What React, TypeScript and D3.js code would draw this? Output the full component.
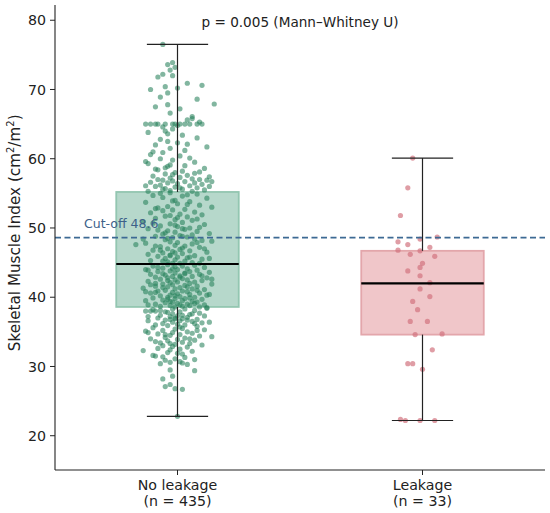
import React from 'react';
import * as d3 from 'd3';

// groups on the x axis
const groups = ['No leakage', 'Leakage'];
const groupCounts = [435, 33];

// box statistics: [low whisker, q1, median, q3, high whisker]
const boxStats = [
  [22.8, 38.6, 44.8, 55.2, 76.5],
  [22.2, 34.6, 42.0, 46.7, 60.1],
];

const yTicks = [20, 30, 40, 50, 60, 70, 80];
const cutoff = 48.6;
const pText = 'p = 0.005 (Mann\u2013Whitney U)';

// individual patients: [SMI, jitter in hundredths of a category]
const noLeakTop = [
  [76.5,-6],[73.9,-2],[73.6,-4],[73.2,-1],[72.8,-3],[72.2,-6],[72.0,-2],[71.8,-8],[70.9,4],[70.6,10],
  [70.4,-5],[70.2,0],[70.0,-11],[69.5,-4],[68.9,-7],[68.6,8],[67.9,15],[67.8,-4],[67.5,-9],[67.2,1],
  [66.6,-3],[66.1,6],[65.0,-13],[65.0,-11],[65.0,-8],[65.0,-5],[65.0,-2],[65.0,1],[65.0,3],[65.0,5],
  [65.0,8],[65.0,10],[65.0,-9],[65.0,-1],[65.8,6],[65.6,4],[65.3,9],[64.6,-6],[64.3,-2],[64.0,-5],
  [63.8,-12],[63.4,2],[63.0,8],[62.8,-7],[62.5,-4],[62.3,0],[62.0,-9],[61.7,12],[61.5,-3],[61.2,3],
  [60.9,-6],[60.6,-11],[60.4,1],[60.1,5],[59.8,-2],[59.6,-13],[59.3,-12],[59.0,3],[58.9,-4],[58.6,11],
  [58.4,-8],[58.2,2],[58.0,-1],[57.9,7],[57.8,-5],[57.6,4],[57.5,-10],[57.3,1],[57.2,-3],[57.1,6],
  [57.0,-8],[57.0,9],[56.9,-6],[56.9,12],[56.8,-2],[56.7,3],[56.6,-11],[56.5,7],[56.5,-4],[56.4,0],
  [56.3,10],[56.2,-7],[56.1,5],[56.0,-9],[56.0,13],[55.9,-1],[55.8,8],[55.7,-5],[55.6,2],[55.5,11],
  [55.4,-3],[55.3,6],[55.3,-12],[58.7,-5],[58.1,9],[57.7,-2],[57.4,13],[59.5,7],[60.0,-7],[61.0,-10],
  [62.1,4],[63.6,-4],[64.8,0],[59.1,-3],[58.5,-9],[56.1,-13],[55.8,1],[55.6,-6],[56.7,14],
];
const noLeakUpperMid = [
  [55.1,-3],[54.9,8],[54.7,-10],[54.6,2],[54.4,-6],[54.3,12],[54.0,-1],[53.8,5],[53.7,-13],[53.5,0],
  [53.3,9],[53.1,-4],[53.0,14],[52.9,-8],[52.7,3],[52.6,-2],[52.3,7],[52.2,-11],[52.0,1],[51.9,10],
  [51.7,-5],[51.6,4],[51.4,-9],[51.2,-1],[51.1,6],[50.9,-14],[50.8,2],[50.6,-3],[50.5,11],[50.3,-7],
  [50.2,0],[50.0,5],[49.9,-12],[49.8,3],[49.6,-4],[49.5,8],[49.4,-1],[49.2,13],[49.1,-6],[48.9,1],
  [48.8,-9],[48.7,4],[48.6,-2],[48.4,7],[48.3,-5],[48.2,10],[48.0,-3],[47.9,0],[47.8,-13],[47.7,6],
  [47.5,-1],[47.4,3],[47.3,-7],[47.2,9],[47.0,-4],[46.9,1],[46.8,-10],[46.7,5],[46.6,-2],[46.5,12],
  [46.4,-6],[46.3,2],[46.1,-3],[46.0,7],[45.9,-8],[45.8,0],[45.7,4],[45.6,-5],[45.5,10],[45.4,-1],
  [45.3,-11],[45.2,3],[45.1,-4],[45.0,6],[44.9,-2],[44.9,9],[47.6,-17],[48.1,14],[49.7,-8],[50.7,-10],
  [51.3,8],[52.5,-6],[53.4,4],[46.2,-12],[45.6,13],[47.1,2],[48.5,-4],[49.0,6],[50.4,-1],[51.8,-3],
  [47.9,8],[46.8,-7],[45.8,5],[48.8,2],[49.3,-5],[50.1,9],[46.4,-1],[47.4,-9],[45.2,-6],[44.9,1],
  [48.4,-14],[47.0,11],[46.0,-3],[49.9,2],[53.9,-2],[54.8,4],[52.8,-9],[51.5,0],[55.0,-7],
];
const noLeakLowerMid = [
  [44.7,-4],[44.6,7],[44.5,-10],[44.5,2],[44.4,-1],[44.3,11],[44.2,-6],[44.1,4],[44.0,-13],[44.0,0],
  [43.9,8],[43.8,-3],[43.7,5],[43.7,-8],[43.6,13],[43.5,-1],[43.4,3],[43.3,-11],[43.3,9],[43.2,-5],
  [43.1,1],[43.0,-2],[43.0,6],[42.9,-9],[42.8,12],[42.8,-4],[42.7,2],[42.6,-7],[42.5,4],[42.5,-1],
  [42.4,10],[42.3,-12],[42.2,0],[42.2,7],[42.1,-3],[42.0,5],[41.9,-6],[41.9,14],[41.8,-2],[41.7,3],
  [41.6,-9],[41.6,8],[41.5,-4],[41.4,1],[41.3,-14],[41.2,6],[41.2,-1],[41.1,11],[41.0,-5],[40.9,2],
  [40.9,-8],[40.8,4],[40.7,-2],[40.6,9],[40.6,-11],[40.5,0],[40.4,5],[40.3,-3],[40.3,12],[40.2,-7],
  [40.1,1],[40.0,-4],[40.0,7],[39.9,-10],[39.8,3],[39.8,-1],[39.7,10],[39.6,-6],[39.5,2],[39.5,-13],
  [39.4,6],[39.3,-2],[39.3,8],[39.2,-5],[39.1,0],[39.0,4],[39.0,-9],[38.9,1],[38.9,11],[38.8,-3],
  [38.8,5],[38.7,-7],[38.7,2],[38.6,-1],[38.6,9],[44.3,-8],[43.9,-12],[43.1,10],[42.6,14],[42.0,-9],
  [41.4,-6],[40.8,-13],[40.4,13],[39.7,-4],[39.1,7],[43.5,3],[42.9,1],[41.8,-11],[41.0,8],[40.2,-1],
  [39.9,5],[44.1,-2],[43.4,-6],[42.4,-4],[41.5,4],[40.7,-9],[39.4,-3],[38.9,-12],
];
const noLeakBottom = [
  [38.5,12],[38.4,12],[38.3,3],[38.2,-10],[38.1,7],[38.0,-13],[38.0,-11],[38.0,-9],[37.9,1],[37.8,-4],
  [37.7,9],[37.6,-2],[37.5,5],[37.4,-7],[37.3,0],[37.3,11],[37.2,-3],[37.1,4],[37.0,-8],[36.9,2],
  [36.9,-1],[36.8,8],[36.7,-5],[36.6,1],[36.6,-12],[36.5,6],[36.4,-2],[36.3,10],[36.2,-6],[36.1,0],
  [36.0,3],[36.0,-9],[37.6,6],[37.0,-1],[36.4,13],[37.9,-5],[38.3,-2],[36.8,-3],[37.4,2],[36.2,7],
  [38.1,-7],[37.2,-12],[36.7,4],
  [35.9,-4],[35.8,8],[35.6,-10],[35.5,2],[35.4,-1],[35.3,11],[35.2,-6],[35.0,4],[34.9,-2],[34.8,6],
  [34.7,-8],[34.6,1],[34.5,-3],[34.4,9],[34.2,-5],[34.1,3],[34.0,-11],[33.9,0],[33.8,7],[33.7,-4],
  [33.5,2],[33.4,-7],[33.3,5],[33.2,-1],[33.1,10],[33.0,-6],[35.1,-13],[34.3,14],[33.6,-9],[35.7,1],
  [34.9,-12],[34.0,5],[33.3,-3],[35.2,8],[34.6,-5],
  [32.9,-2],[32.8,4],[32.6,-8],[32.5,1],[32.3,-14],[32.2,6],[32.0,-4],[31.8,2],[31.6,-10],[31.5,-9],
  [31.4,-6],[31.3,3],[31.1,-1],[31.0,7],[30.9,-5],[30.7,1],[30.6,-3],[30.5,2],[30.4,-7],[30.3,4],
  [32.4,-3],[31.9,0],
  [29.5,-3],[29.4,7],[28.6,-2],[28.2,-6],[27.4,-3],[27.1,-5],[26.8,-1],[26.7,2],
  [22.8,0],
];
const leakPts = [
  [60.1,-4],[55.8,-6],[51.8,-9],[48.0,-10],[47.6,-6],[48.4,-1],[48.7,6],[46.8,-10],[47.2,3],[46.7,-1],
  [46.2,-5],[45.9,5],[44.9,0],[44.3,-1],[43.8,-6],[43.1,-1],[42.1,3],[41.2,-1],[40.1,3],[39.4,-4],
  [38.2,-2],[36.5,-5],[36.5,2],[34.6,-3],[34.7,8],[32.4,4],[30.4,-6],[30.4,-4],[29.6,0],[22.35,-9],
  [22.2,-7],[22.2,-1],[22.2,5],
];

const groupPoints = [
  [...noLeakTop, ...noLeakUpperMid, ...noLeakLowerMid, ...noLeakBottom],
  leakPts,
];

const palette = [
  { dot: '#27825c', fill: '#b6d8cb', edge: '#93c6b1' },
  { dot: '#d2737f', fill: '#f0c6c9', edge: '#e3a6ab' },
];

const W = 550;
const H = 513;
const font = '"DejaVu Sans", sans-serif';

export default function App() {
  const x = d3.scaleLinear().domain([-0.5, 1.5]).range([55, 545]);
  const y = d3.scaleLinear().domain([15.05, 82.2]).range([470, 5]);
  const unit = x(1) - x(0);
  const boxW = 0.5 * unit;
  const capW = 0.25 * unit;

  return (
    <svg width={W} height={H} style={{ position: 'absolute', left: 0, top: 0, background: '#fff' }} fontFamily={font}>
      {/* boxes */}
      {boxStats.map((s, i) => (
        <rect key={'b' + i} x={x(i) - boxW / 2} y={y(s[3])} width={boxW} height={y(s[1]) - y(s[3])}
          fill={palette[i].fill} stroke={palette[i].edge} strokeWidth={1.8} />
      ))}

      {/* jittered points */}
      {groupPoints.map((pts, i) => (
        <g key={'p' + i} fill={palette[i].dot} fillOpacity={i === 0 ? 0.58 : 0.7}>
          {pts.map((p, k) => (
            <circle key={k} cx={x(i + p[1] / 100)} cy={y(p[0])} r={2.6} />
          ))}
        </g>
      ))}

      {/* whiskers, caps and medians */}
      {boxStats.map((s, i) => (
        <g key={'w' + i} stroke="#222" strokeWidth={1.2}>
          <line x1={x(i)} x2={x(i)} y1={y(s[3])} y2={y(s[4])} />
          <line x1={x(i)} x2={x(i)} y1={y(s[1])} y2={y(s[0])} />
          <line x1={x(i) - capW / 2} x2={x(i) + capW / 2} y1={y(s[4])} y2={y(s[4])} />
          <line x1={x(i) - capW / 2} x2={x(i) + capW / 2} y1={y(s[0])} y2={y(s[0])} />
          <line x1={x(i) - boxW / 2} x2={x(i) + boxW / 2} y1={y(s[2])} y2={y(s[2])} stroke="#000" strokeWidth={2.2} />
        </g>
      ))}

      {/* cut-off */}
      <line x1={55} x2={545} y1={y(cutoff)} y2={y(cutoff)} stroke="#3d6a94" strokeWidth={1.6} strokeDasharray="6,3.5" />
      <text x={84} y={y(cutoff) - 10} fontSize={12.5} fill="#3d6189">Cut-off {cutoff}</text>

      {/* axes */}
      <line x1={55} x2={55} y1={5} y2={470} stroke="#222" strokeWidth={1.1} />
      <line x1={55} x2={545} y1={470} y2={470} stroke="#222" strokeWidth={1.1} />
      {yTicks.map(t => (
        <g key={'t' + t}>
          <line x1={50} x2={55} y1={y(t)} y2={y(t)} stroke="#222" strokeWidth={1} />
          <text x={46} y={y(t)} dy="0.36em" textAnchor="end" fontSize={14.2} fill="#222">{t}</text>
        </g>
      ))}
      {groups.map((g, i) => (
        <g key={'g' + i}>
          <line x1={x(i)} x2={x(i)} y1={470} y2={475} stroke="#222" strokeWidth={1} />
          <text x={x(i)} y={490} textAnchor="middle" fontSize={14.2} fill="#222">{g}</text>
          <text x={x(i)} y={506} textAnchor="middle" fontSize={14.2} fill="#222">(n = {groupCounts[i]})</text>
        </g>
      ))}

      <text transform={`translate(20, ${y(49.3)}) rotate(-90)`} textAnchor="middle" fontSize={15.2} fill="#222">
        Skeletal Muscle Index (cm<tspan fontSize={10} dy={-6}>2</tspan><tspan dy={6}>/m</tspan><tspan fontSize={10} dy={-6}>2</tspan><tspan dy={6}>)</tspan>
      </text>

      <text x={300} y={27} textAnchor="middle" fontSize={13.6} fill="#222">{pText}</text>
    </svg>
  );
}
